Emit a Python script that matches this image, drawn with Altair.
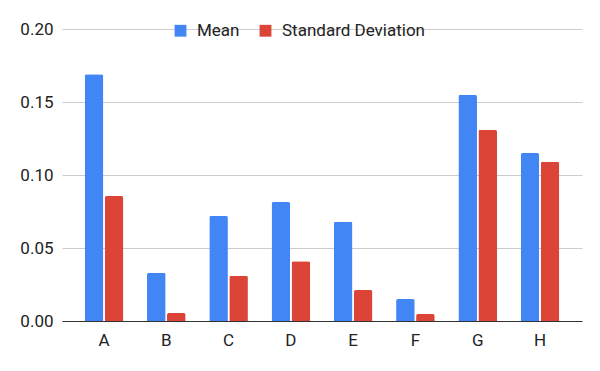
import altair as alt
import pandas as pd

categories = ["A", "B", "C", "D", "E", "F", "G", "H"]
mean_values = [0.169, 0.033, 0.072, 0.0815, 0.068, 0.015, 0.155, 0.115]
std_values = [0.0856, 0.0055, 0.031, 0.041, 0.0212, 0.0048, 0.131, 0.109]
series_names = ["Mean", "Standard Deviation"]
series_colors = ["#4285F4", "#DB4437"]
y_ticks = [0.0, 0.05, 0.10, 0.15, 0.20]

rows = []
for c, m, s in zip(categories, mean_values, std_values):
    rows.append({"category": c, "series": series_names[0], "value": m})
    rows.append({"category": c, "series": series_names[1], "value": s})
df = pd.DataFrame(rows)

chart = alt.Chart(df).mark_bar(
    cornerRadiusTopLeft=2, cornerRadiusTopRight=2
).encode(
    x=alt.X(
        "category:N",
        sort=categories,
        scale=alt.Scale(paddingInner=0.38, paddingOuter=0.365),
        axis=alt.Axis(
            title=None, labelAngle=0, domainColor="#333333", domainWidth=1,
            ticks=False, labelFontSize=17, labelPadding=11, labelColor="#222222",
            grid=False,
        ),
    ),
    xOffset=alt.XOffset(
        "series:N", sort=series_names,
        scale=alt.Scale(paddingInner=0.07, paddingOuter=0),
    ),
    y=alt.Y(
        "value:Q",
        scale=alt.Scale(domain=[0, 0.2], nice=False),
        axis=alt.Axis(
            values=y_ticks, format=".2f", title=None, domain=False, ticks=False,
            gridColor="#cccccc", labelFontSize=17, labelPadding=9,
            labelColor="#222222",
        ),
    ),
    color=alt.Color(
        "series:N",
        scale=alt.Scale(domain=series_names, range=series_colors),
        legend=alt.Legend(
            title=None, orient="none", direction="horizontal", columns=2,
            legendX=110, legendY=-7, padding=0, symbolType="square",
            symbolSize=140, symbolStrokeWidth=0, labelFontSize=17,
            labelOffset=8, columnPadding=17, labelColor="#222222",
        ),
    ),
).properties(
    width=520,
    height=292,
    autosize=alt.AutoSizeParams(type="none"),
    padding={"left": 54, "top": 21, "right": 10, "bottom": 42},
).configure(
    font="Roboto",
).configure_view(
    stroke=None,
)

chart.save("out.html", embed_options={"renderer": "svg", "actions": False})
